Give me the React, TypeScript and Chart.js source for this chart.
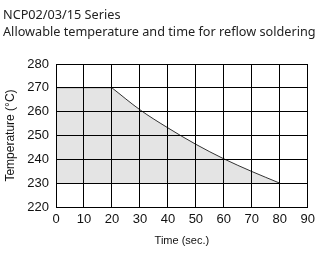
import React, { useEffect, useRef } from "react";
import { Chart, registerables } from "chart.js";

Chart.register(...registerables);

const titleLines = ["NCP02/03/15 Series", "Allowable temperature and time for reflow soldering"];
const xTitle = "Time (sec.)";
const yTitle = "Temperature (°C)";

const flatTime = [0, 20];
const flatTemp = [270, 270];
const curveTime = [20, 30, 40, 50, 60, 70, 80];
const curveTemp = [270, 260.8, 253.2, 246.3, 240.2, 234.9, 230];
const baseTime = [0, 80];
const baseTemp = [230, 230];

const xMin = 0, xMax = 90, xStep = 10;
const yMin = 220, yMax = 280, yStep = 10;

const pts = (xs: number[], ys: number[]) => xs.map((x, i) => ({ x, y: ys[i] }));

export default function App() {
  const ref = useRef<HTMLCanvasElement | null>(null);
  useEffect(() => {
    document.body.style.margin = "0";
    const ctx = ref.current!.getContext("2d")!;
    const fillColor = "#e4e4e4";
    const chart = new Chart(ctx, {
      type: "line",
      data: {
        datasets: [
          {
            data: pts(flatTime, flatTemp),
            fill: { value: 230 },
            backgroundColor: fillColor,
            borderColor: "#8c8c8c",
            borderWidth: 1,
            pointRadius: 0,
          },
          {
            data: pts(curveTime, curveTemp),
            fill: { value: 230 },
            backgroundColor: fillColor,
            borderColor: "#333333",
            borderWidth: 1,
            pointRadius: 0,
            tension: 0.4,
            cubicInterpolationMode: "monotone",
          },
          {
            data: pts(baseTime, baseTemp),
            fill: false,
            borderColor: "#8c8c8c",
            borderWidth: 1,
            pointRadius: 0,
          },
        ],
      },
      options: {
        animation: false,
        responsive: false,
        events: [],
        layout: { padding: { top: 64, right: 12, left: 0, bottom: 0 } },
        plugins: { legend: { display: false }, tooltip: { enabled: false }, title: { display: false } },
        scales: {
          x: {
            type: "linear",
            min: xMin,
            max: xMax,
            afterFit: (s: any) => { s.height = 49; },
            ticks: {
              stepSize: xStep,
              padding: 5,
              color: "#111",
              font: { family: "Arial, 'Liberation Sans'", size: 13 },
              maxRotation: 0,
            },
            grid: { color: "#000", lineWidth: 1, drawTicks: false, z: 1 },
            border: { color: "#000", width: 1, z: 2 },
            title: {
              display: true,
              text: xTitle,
              color: "#111",
              font: { family: "Arial, 'Liberation Sans'", size: 11 },
              padding: { top: 0, bottom: 8 },
            },
          },
          y: {
            type: "linear",
            min: yMin,
            max: yMax,
            afterFit: (s: any) => { s.width = 56; },
            ticks: {
              stepSize: yStep,
              padding: 7,
              color: "#111",
              font: { family: "Arial, 'Liberation Sans'", size: 13 },
            },
            grid: { color: "#000", lineWidth: 1, drawTicks: false, z: 1 },
            border: { color: "#000", width: 1, z: 2 },
            title: {
              display: true,
              text: yTitle,
              color: "#111",
              font: { family: "Arial, 'Liberation Sans'", size: 12 },
              padding: { top: 3, bottom: 0 },
            },
          },
        },
      },
    } as any);
    return () => chart.destroy();
  }, []);

  return (
    <div style={{ position: "relative", width: 320, height: 256 }}>
      <canvas ref={ref} width={320} height={256} style={{ position: "absolute", left: 0, top: 0 }} />
      <div
        style={{
          position: "absolute",
          left: 3,
          top: 6,
          fontFamily: "'Noto Sans', sans-serif",
          fontSize: 12.7,
          lineHeight: "16.5px",
          color: "#222",
          whiteSpace: "nowrap",
        }}
      >
        {titleLines.map((t, i) => (
          <div key={i}>{t}</div>
        ))}
      </div>
    </div>
  );
}
